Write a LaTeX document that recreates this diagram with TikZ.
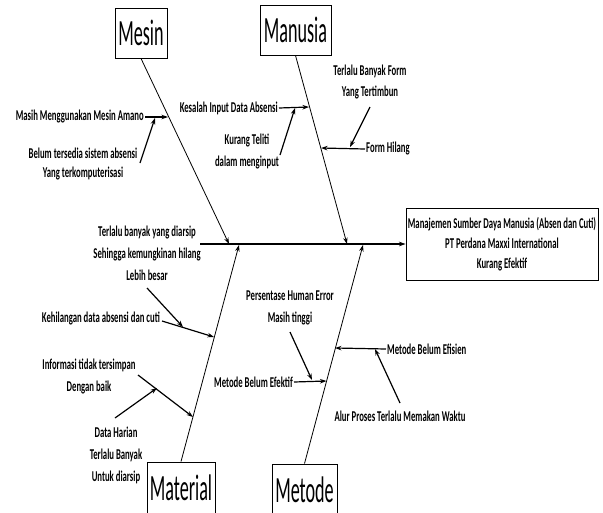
\documentclass[tikz,border=0pt]{standalone}
\usepackage{fontspec}
\setmainfont{Carlito}[FakeStretch=0.58]
\newfontfamily\boxfont{Carlito}[FakeStretch=0.49]
\usetikzlibrary{arrows.meta}

\begin{document}
\begin{tikzpicture}[x=1pt,y=-1pt,
  lbl/.style={inner sep=1pt, font=\bfseries\fontsize{15}{22}\selectfont, align=center},
  cat/.style={draw, line width=0.9pt, font=\boxfont\fontsize{37}{37}\selectfont, inner sep=0pt},
  tip/.style={-{Stealth[length=6.5pt,width=4.5pt]}},
  bone/.style={line width=0.8pt, tip},
  twig/.style={line width=1.2pt, tip},
  spine/.style={line width=1.4pt, tip},
]
\useasboundingbox (0,0) rectangle (603,512);
\clip (0,0) rectangle (603,512);

% category boxes
\node[cat, minimum width=52pt, minimum height=50pt] (mesin) at (141,33) {Mesin};
\node[cat, minimum width=71pt, minimum height=50pt] (manusia) at (295.5,30) {Manusia};
\node[cat, minimum width=68pt, minimum height=52pt] (material) at (181,488) {Material};
\node[cat, minimum width=65pt, minimum height=52pt] (metode) at (304.5,490) {Metode};

% effect (head of the fish)
\node[draw, line width=0.9pt, minimum width=192pt, minimum height=72pt, inner sep=1pt,
      align=center, font=\bfseries\fontsize{15}{20}\selectfont] (effect) at (502,244)
  {Manajemen Sumber Daya Manusia (Absen dan Cuti)\\PT Perdana Maxxi International\\Kurang Efektif};

% spine
\coordinate (tail) at (200,244);
\draw[spine] (tail) -- (effect.west);

% main bones
\coordinate (mesinEnd) at (229,244);
\coordinate (manusiaEnd) at (347,244);
\coordinate (materialEnd) at (239,245);
\coordinate (metodeEnd) at (363,245);
\draw[bone] (mesin.south) -- (mesinEnd);
\draw[bone] (manusia.south) -- (manusiaEnd);
\draw[bone] (material.north) -- (materialEnd);
\draw[bone] (metode.north) -- (metodeEnd);

% --- Mesin ---
\node[lbl, anchor=east] (masih) at (145,117) {Masih Menggunakan Mesin Amano};
\coordinate (masihEnd) at (168,117);
\draw[twig] (masih.east) -- (masihEnd);
\node[lbl, font=\bfseries\fontsize{15}{19}\selectfont] (belum) at (83,164) {Belum tersedia sistem absensi\\Yang terkomputerisasi};
\coordinate (belumStart) at (140,163);
\coordinate (belumEnd) at (155,118);
\draw[twig] (belumStart) -- (belumEnd);

% --- Manusia ---
\node[lbl, anchor=east] (kesalah) at (279,108) {Kesalah Input Data Absensi};
\coordinate (kesalahEnd) at (309,107);
\draw[twig] (kesalah.east) -- (kesalahEnd);
\node[lbl] (kurang) at (247,151) {Kurang Teliti\\dalam menginput};
\coordinate (kurangStart) at (280,155);
\coordinate (kurangEnd) at (295,108);
\draw[twig] (kurangStart) -- (kurangEnd);

\node[lbl, font=\bfseries\fontsize{15}{21}\selectfont] (form) at (370,82) {Terlalu Banyak Form\\Yang Tertimbun};
\node[lbl, anchor=west] (hilang) at (365,149) {Form Hilang};
\coordinate (hilangEnd) at (321,148);
\draw[twig] (hilang.west) -- (hilangEnd);
\coordinate (formStart) at (370,107);
\coordinate (formEnd) at (350,147);
\draw[twig] (formStart) -- (formEnd);

% --- Material ---
\node[lbl] (arsip) at (147,253) {Terlalu banyak yang diarsip\\Sehingga kemungkinan hilang\\Lebih besar};
\node[lbl, anchor=east] (kehilangan) at (161,318) {Kehilangan data absensi dan cuti};
\coordinate (kehilanganStart) at (162,321);
\coordinate (kehilanganEnd) at (214,337);
\draw[twig] (kehilanganStart) -- (kehilanganEnd);
\coordinate (arsipStart) at (147,288);
\coordinate (arsipEnd) at (183,327);
\draw[twig] (arsipStart) -- (arsipEnd);

\node[lbl] (informasi) at (89,376) {Informasi tidak tersimpan\\Dengan baik};
\coordinate (informasiStart) at (138,375);
\coordinate (informasiEnd) at (193,417);
\draw[twig] (informasiStart) -- (informasiEnd);
\node[lbl] (harian) at (116,455) {Data Harian\\Terlalu Banyak\\Untuk diarsip};
\coordinate (harianStart) at (115,418);
\coordinate (harianEnd) at (157,388);
\draw[twig] (harianStart) -- (harianEnd);

% --- Metode ---
\node[lbl] (persen) at (290,308) {Persentase Human Error\\Masih tinggi};
\node[lbl, anchor=east] (efektif) at (294,382) {Metode Belum Efektif};
\coordinate (efektifEnd) at (326.5,381);
\draw[twig] (efektif.east) -- (efektifEnd);
\coordinate (persenStart) at (290,332);
\coordinate (persenEnd) at (312,380);
\draw[twig] (persenStart) -- (persenEnd);

\node[lbl, anchor=west] (efisien) at (386,349) {Metode Belum Efisien};
\coordinate (efisienEnd) at (335,348);
\draw[twig] (efisien.west) -- (efisienEnd);
\node[lbl] (alur) at (400,416) {Alur Proses Terlalu Memakan Waktu};
\coordinate (alurStart) at (400,403);
\coordinate (alurEnd) at (375,349);
\draw[twig] (alurStart) -- (alurEnd);
\end{tikzpicture}
\end{document}
